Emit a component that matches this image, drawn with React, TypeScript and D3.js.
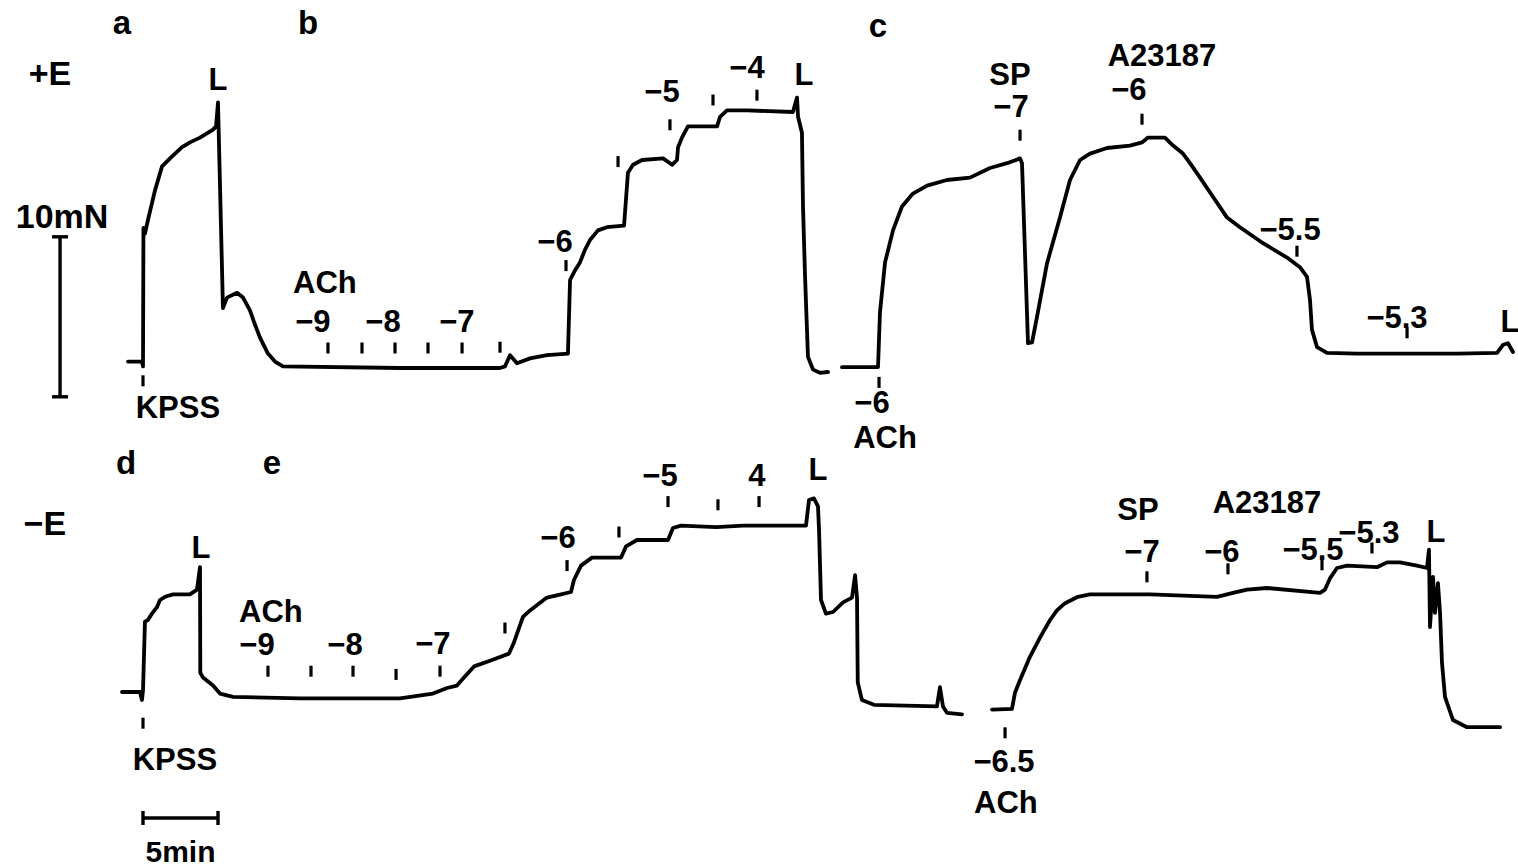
import { useMemo } from 'react'
import * as d3 from 'd3'

const W = 1518
const H = 867

// time in min, tension in mN above the row's resting level
const traceAB: [number, number][] = [
  [0.2, 0.4], [1.13, 0.4], [1.2, 0.1], [1.23, 8.75], [1.33, 8.4], [1.53, 9.25], [2.0, 11.1],
  [2.47, 12.6], [3.0, 13.1], [3.8, 13.8], [4.33, 14.1], [5.0, 14.4], [5.87, 14.9], [6.07, 15.1],
  [6.2, 16.6], [6.53, 3.75], [6.8, 4.4], [7.47, 4.7], [7.87, 4.4], [8.33, 3.6], [8.67, 2.7],
  [9.0, 1.9], [9.53, 0.9], [10.0, 0.4], [10.53, 0.1], [18.33, 0], [25.0, 0], [25.33, 0.1],
  [25.67, 0.8], [26.13, 0.3], [27.0, 0.6], [28.13, 0.8], [29.53, 0.9], [29.67, 5.5], [30.0, 6.1],
  [30.33, 6.6], [30.67, 7.4], [31.0, 8.0], [31.53, 8.6], [32.13, 8.8], [33.27, 8.9], [33.53, 12.2],
  [33.87, 12.7], [34.47, 13.0], [35.87, 13.1], [36.47, 12.7], [36.8, 13.0], [36.87, 13.8],
  [37.13, 14.4], [37.53, 15.1], [39.47, 15.1], [39.67, 15.7], [40.13, 16.1], [41.47, 16.1],
  [44.53, 16.0], [44.8, 16.9], [44.87, 15.7], [45.13, 14.7], [45.2, 10.1], [45.33, 5.9],
  [45.53, 0.7], [45.87, -0.1], [46.33, -0.3], [46.87, -0.25]
]

const traceC: [number, number][] = [
  [47.8, 0.05], [50.2, 0.05], [50.33, 3.45], [50.67, 6.6], [51.2, 8.6], [51.8, 10.1], [52.53, 10.9],
  [53.47, 11.4], [54.8, 11.75], [56.33, 11.9], [57.67, 12.5], [58.8, 12.8], [59.67, 13.1],
  [59.8, 12.8], [60.2, 1.55], [60.47, 1.6], [60.8, 3.2], [61.47, 6.55], [62.33, 9.4], [63.0, 11.75],
  [63.67, 13.0], [64.33, 13.4], [65.47, 13.75], [67.0, 13.9], [67.8, 14.1], [68.2, 14.4],
  [69.33, 14.4], [69.87, 13.9], [70.53, 13.4], [71.0, 12.8], [71.67, 11.9], [72.53, 10.7],
  [73.47, 9.4], [74.33, 8.8], [75.87, 7.8], [77.47, 6.9], [78.33, 6.3], [78.8, 5.7], [79.0, 4.25],
  [79.13, 2.4], [79.47, 1.3], [80.13, 0.95], [82.13, 0.9], [88.8, 0.9], [91.47, 0.95],
  [91.87, 1.45], [92.2, 1.55], [92.53, 1.0]
]

const traceDE: [number, number][] = [
  [-0.2, 0.5], [1.0, 0.5], [1.13, 0], [1.2, 0.6], [1.33, 4.9], [1.53, 5.0], [1.8, 5.4], [2.13, 5.8],
  [2.33, 6.25], [2.67, 6.45], [3.2, 6.6], [4.33, 6.6], [4.8, 6.9], [5.0, 8.3], [5.02, 1.7],
  [5.2, 1.4], [5.87, 0.9], [6.33, 0.4], [7.2, 0.2], [11.67, 0.1], [18.33, 0.1], [20.53, 0.4],
  [21.47, 0.75], [22.13, 0.9], [22.6, 1.4], [23.27, 2.1], [24.47, 2.5], [25.6, 2.9], [25.93, 3.6],
  [26.53, 5.2], [27.0, 5.6], [28.13, 6.4], [29.07, 6.6], [29.73, 6.75], [29.93, 7.5], [30.4, 8.4],
  [31.13, 8.9], [33.07, 8.9], [33.4, 9.6], [34.13, 10.0], [36.2, 10.0], [36.53, 10.75],
  [37.07, 10.9], [39.4, 10.8], [41.2, 10.9], [45.4, 10.9], [45.6, 12.5], [45.93, 12.6],
  [46.2, 12.1], [46.27, 10.6], [46.4, 6.25], [46.73, 5.4], [47.2, 5.5], [47.87, 6.1], [48.47, 6.4],
  [48.67, 7.8], [48.8, 6.4], [48.85, 1.1], [49.13, 0], [49.93, -0.3], [54.13, -0.4], [54.33, 0.8],
  [54.53, -0.4], [54.8, -0.8], [55.8, -0.9]
]

const traceF: [number, number][] = [
  [57.8, -0.6], [59.13, -0.55], [59.33, 0.45], [59.67, 1.25], [60.33, 2.7], [61.0, 3.9],
  [61.67, 5.0], [62.13, 5.6], [62.67, 6.05], [63.53, 6.45], [64.33, 6.6], [68.33, 6.6],
  [72.8, 6.45], [73.87, 6.7], [74.8, 6.9], [76.13, 7.0], [79.67, 6.7], [80.0, 6.9], [80.33, 7.6],
  [80.8, 8.25], [81.47, 8.4], [83.47, 8.3], [84.13, 8.6], [85.0, 8.6], [86.13, 8.4], [86.8, 8.25],
  [86.93, 9.4], [87.0, 4.55], [87.2, 7.7], [87.33, 5.45], [87.53, 7.3], [87.67, 5.45], [87.8, 2.3],
  [88.0, 0.2], [88.53, -1.25], [89.47, -1.7], [91.67, -1.7]
]

// drug addition marks: [time, level]
const marksTop: [number, number][] = [
  [1.2, -0.8], [13.53, 1.25], [15.8, 1.25], [18.0, 1.25], [20.2, 1.25], [22.47, 1.25], [25.0, 1.3],
  [29.4, 6.4], [32.87, 12.9], [36.33, 15.2], [39.2, 16.75], [42.13, 17.05],
  [50.27, -0.9], [59.67, 14.55], [67.8, 15.55], [78.13, 7.3], [85.47, 2.2]
]
const marksBottom: [number, number][] = [
  [1.2, -1.45], [9.53, 1.8], [12.4, 1.8], [15.2, 1.8], [18.07, 1.6], [21.0, 1.8], [25.33, 4.5],
  [29.47, 8.4], [32.93, 10.5], [36.2, 12.4], [39.53, 12.2], [42.27, 12.4],
  [58.67, -2.05], [68.13, 7.7], [73.53, 8.2], [79.8, 8.45], [83.13, 9.5]
]

// labels: [text, time, level]
const labelsTop: [string, number, number][] = [
  ['a', -0.2, 20.9], ['b', 12.2, 20.9], ['c', 50.2, 20.7], ['+E', -5.0, 17.7], ['L', 6.2, 17.4],
  ['KPSS', 3.53, -3.1], ['ACh', 13.33, 4.7], ['−9', 12.53, 2.25], ['−8', 17.2, 2.25],
  ['−7', 22.13, 2.25], ['−6', 28.67, 7.25], ['−5', 35.8, 16.6], ['−4', 41.47, 18.1],
  ['L', 45.27, 17.7], ['SP', 59.0, 17.7], ['−7', 59.07, 15.7], ['A23187', 69.13, 18.9],
  ['−6', 66.93, 16.75], ['−5.5', 77.67, 8.0], ['−5.3', 84.8, 2.5], ['L', 92.33, 2.25],
  ['−6', 49.8, -2.8], ['ACh', 50.67, -5.0]
]
const labelsBottom: [string, number, number][] = [
  ['d', 0.07, 14.1], ['e', 9.8, 14.1], ['−E', -5.33, 10.3], ['L', 5.07, 8.9], ['ACh', 9.73, 4.85],
  ['−9', 8.8, 2.8], ['−8', 14.67, 2.8], ['−7', 20.53, 2.85], ['KPSS', 3.33, -4.375],
  ['−6', 28.87, 9.5], ['−5', 35.67, 13.4], ['4', 42.13, 13.4], ['L', 46.2, 13.75],
  ['SP', 67.53, 11.25], ['A23187', 76.13, 11.7], ['−7', 67.8, 8.6], ['−6', 73.13, 8.6],
  ['−5.5', 79.2, 8.75], ['−5.3', 82.93, 9.8], ['L', 87.4, 9.9], ['−6.5', 58.6, -4.5],
  ['ACh', 58.73, -7.06]
]

// calibration bars
const forceBar = { t: -4.33, from: -1.8, size: 10, label: '10mN' }
const timeBar = { t: 1.2, f: -7.375, size: 5, label: '5min' }

const FONT = '"Liberation Sans", Arial, sans-serif'

export default function App() {
  const x = useMemo(() => d3.scaleLinear().domain([0, 93]).range([125, 1520]), [])
  const yTop = useMemo(() => d3.scaleLinear().domain([0, 10]).range([368, 208]), [])
  const yBot = useMemo(() => d3.scaleLinear().domain([0, 10]).range([700, 540]), [])

  const lineFor = (y: d3.ScaleLinear<number, number>) =>
    d3.line<[number, number]>().x(d => x(d[0])).y(d => y(d[1]))

  const topLine = lineFor(yTop)
  const botLine = lineFor(yBot)

  const traceStyle = {
    fill: 'none',
    stroke: '#000',
    strokeWidth: 3.8,
    strokeLinejoin: 'round' as const,
    strokeLinecap: 'round' as const
  }

  const marks = (data: [number, number][], y: d3.ScaleLinear<number, number>, key: string) =>
    data.map((d, i) => (
      <line key={key + i} x1={x(d[0])} x2={x(d[0])} y1={y(d[1]) - 5.5} y2={y(d[1]) + 5.5}
        stroke="#000" strokeWidth={3.2} />
    ))

  const labels = (data: [string, number, number][], y: d3.ScaleLinear<number, number>, key: string) =>
    data.map((d, i) => {
      const isPanel = /^[a-f]$/.test(d[0])
      const isSide = /E$/.test(d[0])
      return (
        <text key={key + i} x={x(d[1])} y={y(d[2])} textAnchor="middle"
          fontFamily={FONT} fontWeight="bold" fontSize={isPanel ? 33 : isSide ? 34 : 31} fill="#000">
          {d[0]}
        </text>
      )
    })

  const fx = x(forceBar.t)
  const fy0 = yTop(forceBar.from)
  const fy1 = yTop(forceBar.from + forceBar.size)
  const tx0 = x(timeBar.t)
  const tx1 = x(timeBar.t + timeBar.size)
  const ty = yBot(timeBar.f)

  return (
    <svg width={W} height={H} style={{ position: 'absolute', left: 0, top: 0, background: '#fff' }}>
      <rect width={W} height={H} fill="#fff" />
      <path d={topLine(traceAB) ?? ''} {...traceStyle} />
      <path d={topLine(traceC) ?? ''} {...traceStyle} />
      <path d={botLine(traceDE) ?? ''} {...traceStyle} />
      <path d={botLine(traceF) ?? ''} {...traceStyle} />
      {marks(marksTop, yTop, 'mt')}
      {marks(marksBottom, yBot, 'mb')}
      {labels(labelsTop, yTop, 'lt')}
      {labels(labelsBottom, yBot, 'lb')}

      {/* 10 mN bar */}
      <g stroke="#000" strokeWidth={3.4}>
        <line x1={fx} x2={fx} y1={fy0} y2={fy1} />
        <line x1={fx - 8} x2={fx + 8} y1={fy0} y2={fy0} />
        <line x1={fx - 8} x2={fx + 8} y1={fy1} y2={fy1} />
      </g>
      <text x={fx + 2} y={fy1 - 9} textAnchor="middle" fontFamily={FONT} fontWeight="bold"
        fontSize={34}>{forceBar.label}</text>

      {/* 5 min bar */}
      <g stroke="#000" strokeWidth={3.4}>
        <line x1={tx0} x2={tx1} y1={ty} y2={ty} />
        <line x1={tx0} x2={tx0} y1={ty - 7} y2={ty + 7} />
        <line x1={tx1} x2={tx1} y1={ty - 7} y2={ty + 7} />
      </g>
      <text x={(tx0 + tx1) / 2} y={ty + 44} textAnchor="middle" fontFamily={FONT} fontWeight="bold"
        fontSize={30}>{timeBar.label}</text>
    </svg>
  )
}
